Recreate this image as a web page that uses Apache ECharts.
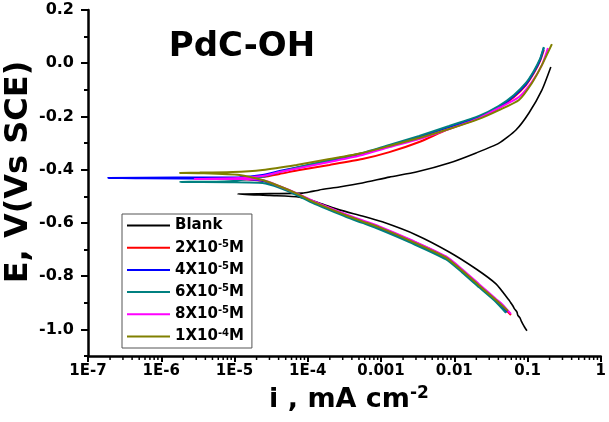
<!DOCTYPE html>
<html><head><meta charset="utf-8">
<script src="https://cdn.jsdelivr.net/npm/echarts@6/dist/echarts.min.js"></script>
<style>html,body{margin:0;padding:0;background:#fff}#c{width:609px;height:422px}</style>
</head><body><div id="c"></div>
<script>
// ---- axes / ticks ----
const xTickLabels = ['1E-7','1E-6','1E-5','1E-4','0.001','0.01','0.1','1'];
const yTickValues = [-1.0,-0.8,-0.6,-0.4,-0.2,0.0,0.2];
const yTickLabels = ['-1.0','-0.8','-0.6','-0.4','-0.2','0.0','0.2'];
const yMinorValues = [-1.1,-0.9,-0.7,-0.5,-0.3,-0.1,0.1];
const xMinorMultipliers = [2,3,4,5,6,7,8,9];
const xDecades = [-7,-6,-5,-4,-3,-2,-1];

// ---- legend ----
const legendBase = ['Blank','2X10','4X10','6X10','8X10','1X10'];
const legendExp  = ['', '-5','-5','-5','-5','-4'];
const seriesColors = ['#000000','#ff0000','#0000ff','#008080','#ff00ff','#808000'];

// ---- data: [i (mA cm-2), E (V vs SCE)] ----
const blankData = [[0.0982,-1.005],[0.0905,-0.990],[0.0867,-0.981],[0.0820,-0.968],[0.0789,-0.957],[0.0735,-0.946],[0.0718,-0.935],[0.0660,-0.922],[0.0633,-0.912],[0.0590,-0.900],[0.0558,-0.890],[0.0371,-0.829],[0.0199,-0.773],[8.51e-3,-0.709],[3.02e-3,-0.645],[1.04e-3,-0.596],[5.56e-4,-0.574],[2.70e-4,-0.551],[1.44e-4,-0.525],[7.71e-5,-0.503],[3.01e-5,-0.497],[1.10e-5,-0.491],[3.01e-5,-0.490],[8.47e-5,-0.488],[1.05e-4,-0.484],[1.44e-4,-0.476],[2.70e-4,-0.465],[5.56e-4,-0.450],[1.30e-3,-0.428],[3.02e-3,-0.409],[8.51e-3,-0.375],[0.0199,-0.337],[0.0408,-0.300],[0.0695,-0.251],[0.1045,-0.187],[0.157,-0.101],[0.208,-0.014]];
const c2e5Data = [[0.0594,-0.946],[0.0450,-0.912],[0.0371,-0.890],[0.0218,-0.834],[0.0128,-0.778],[7.74e-3,-0.729],[2.67e-3,-0.668],[9.48e-4,-0.616],[5.56e-4,-0.593],[3.37e-4,-0.571],[1.98e-4,-0.545],[1.16e-4,-0.518],[7.02e-5,-0.490],[4.12e-5,-0.463],[2.41e-5,-0.442],[1.17e-5,-0.436],[3.35e-6,-0.433],[1.17e-5,-0.431],[2.41e-5,-0.427],[4.12e-5,-0.416],[7.71e-5,-0.401],[1.98e-4,-0.382],[5.56e-4,-0.360],[1.30e-3,-0.334],[3.32e-3,-0.296],[7.74e-3,-0.251],[0.0218,-0.206],[0.0408,-0.168],[0.0653,-0.127],[0.0952,-0.082],[0.122,-0.037],[0.148,0.008],[0.167,0.050]];
const c4e5Data = [[0.0525,-0.935],[0.0371,-0.893],[0.0218,-0.837],[0.0128,-0.781],[7.74e-3,-0.732],[2.67e-3,-0.672],[9.48e-4,-0.619],[5.56e-4,-0.596],[3.37e-4,-0.574],[1.98e-4,-0.548],[1.16e-4,-0.521],[7.02e-5,-0.491],[4.12e-5,-0.465],[2.41e-5,-0.442],[1.17e-5,-0.434],[1.87e-7,-0.431],[1.17e-5,-0.428],[2.41e-5,-0.420],[4.12e-5,-0.405],[7.71e-5,-0.390],[1.98e-4,-0.367],[5.56e-4,-0.341],[1.30e-3,-0.311],[3.32e-3,-0.277],[8.51e-3,-0.240],[0.0218,-0.202],[0.0408,-0.164],[0.0653,-0.123],[0.0952,-0.078],[0.122,-0.033],[0.148,0.012],[0.167,0.057]];
const c6e5Data = [[0.0508,-0.938],[0.0371,-0.897],[0.0218,-0.842],[0.0128,-0.786],[7.74e-3,-0.737],[2.67e-3,-0.677],[9.48e-4,-0.624],[5.56e-4,-0.600],[3.37e-4,-0.578],[1.98e-4,-0.552],[1.16e-4,-0.525],[7.02e-5,-0.495],[4.12e-5,-0.468],[2.41e-5,-0.450],[8.59e-6,-0.447],[1.79e-6,-0.446],[8.59e-6,-0.443],[2.41e-5,-0.427],[4.12e-5,-0.409],[7.71e-5,-0.390],[1.98e-4,-0.364],[5.56e-4,-0.337],[1.30e-3,-0.307],[3.32e-3,-0.273],[8.51e-3,-0.236],[0.0218,-0.198],[0.0408,-0.160],[0.0653,-0.119],[0.0952,-0.074],[0.122,-0.029],[0.148,0.016],[0.167,0.061]];
const c8e5Data = [[0.0594,-0.942],[0.0450,-0.905],[0.0371,-0.886],[0.0218,-0.830],[0.0128,-0.774],[7.74e-3,-0.726],[2.67e-3,-0.666],[9.48e-4,-0.613],[5.56e-4,-0.590],[3.37e-4,-0.568],[1.98e-4,-0.543],[1.16e-4,-0.516],[7.02e-5,-0.488],[4.12e-5,-0.462],[2.41e-5,-0.439],[1.17e-5,-0.435],[2.86e-6,-0.435],[1.17e-5,-0.431],[2.41e-5,-0.424],[4.12e-5,-0.409],[7.71e-5,-0.394],[1.98e-4,-0.371],[5.56e-4,-0.345],[1.30e-3,-0.315],[3.32e-3,-0.285],[8.51e-3,-0.247],[0.0218,-0.206],[0.0408,-0.168],[0.0764,-0.127],[0.115,-0.070],[0.157,-0.007],[0.190,0.057]];
const c1e4Data = [[0.054,-0.931],[0.0371,-0.890],[0.0218,-0.835],[0.0128,-0.779],[7.74e-3,-0.730],[2.67e-3,-0.670],[9.48e-4,-0.617],[5.56e-4,-0.594],[3.37e-4,-0.572],[1.98e-4,-0.546],[1.16e-4,-0.519],[7.02e-5,-0.489],[4.12e-5,-0.462],[2.41e-5,-0.439],[1.17e-5,-0.420],[3.35e-6,-0.413],[1.79e-6,-0.412],[3.35e-6,-0.411],[9.44e-6,-0.409],[2.41e-5,-0.401],[7.02e-5,-0.382],[1.98e-4,-0.360],[5.56e-4,-0.337],[1.30e-3,-0.311],[3.32e-3,-0.281],[8.51e-3,-0.247],[0.0218,-0.209],[0.0408,-0.176],[0.0764,-0.138],[0.115,-0.074],[0.157,-0.007],[0.215,0.072]];
const allData = [blankData,c2e5Data,c4e5Data,c6e5Data,c8e5Data,c1e4Data];

const FONT = 'DejaVu Sans';
const seriesNames = legendBase.map((b,i)=> b + legendExp[i] + (legendExp[i] ? 'M' : ''));
const xMinorValues = [];
xDecades.forEach(d => xMinorMultipliers.forEach(m => xMinorValues.push([m*Math.pow(10,d), -1.1])));

const chart = echarts.init(document.getElementById('c'), null, {renderer:'canvas'});
const lineSeries = allData.map((d,i)=>({
  name: seriesNames[i], type:'line', data:d, symbol:'none', showSymbol:false, smooth:0.2,
  xAxisIndex:0, yAxisIndex:0,
  lineStyle:{color:seriesColors[i], width: i===0?1.6:2},
  itemStyle:{color:seriesColors[i]}, z: 2+i, animation:false
}));

chart.setOption({
  animation:false,
  backgroundColor:'#fff',
  grid:{left:88,right:7,top:10,bottom:66,containLabel:false},
  xAxis:[{
    type:'log', logBase:10, min:1e-7, max:1, splitNumber:7,
    axisLine:{show:true,onZero:false,lineStyle:{color:'#000',width:2.5}},
    axisTick:{show:true,inside:false,length:6,lineStyle:{color:'#000',width:2}},
    splitLine:{show:false},
    axisLabel:{margin:8,color:'#000',fontFamily:FONT,fontWeight:'bold',fontSize:15,
      formatter:v=>xTickLabels[Math.round(Math.log10(v))+7]}
  }],
  yAxis:[{
    type:'value', min:-1.1, max:0.2,
    axisLine:{show:true,onZero:false,lineStyle:{color:'#000',width:2.5}},
    axisTick:{show:true,length:7,customValues:yTickValues,lineStyle:{color:'#000',width:2}},
    splitLine:{show:false},
    axisLabel:{margin:14,color:'#000',fontFamily:FONT,fontWeight:'bold',fontSize:16,customValues:yTickValues,
      formatter:v=>{const k=yTickValues.findIndex(t=>Math.abs(t-v)<1e-6);return k>=0?yTickLabels[k]:'';}}
  },{
    type:'value', min:-1.1, max:0.2, position:'left',
    axisLine:{show:false}, splitLine:{show:false}, axisLabel:{show:false},
    axisTick:{show:true,length:4,customValues:yMinorValues,lineStyle:{color:'#000',width:2}}
  }],
  legend:{
    show:true, data:seriesNames, orient:'vertical', left:122, top:214,
    icon:'rect', itemWidth:43, itemHeight:2, itemGap:6.2, padding:[4,8,4,5],
    borderColor:'#555', borderWidth:1, backgroundColor:'#fff',
    textStyle:{color:'#000',fontFamily:FONT,fontWeight:'bold',fontSize:15,
      rich:{b:{fontFamily:FONT,fontWeight:'bold',fontSize:15,lineHeight:17,color:'#000'},
            s:{fontFamily:FONT,fontWeight:'bold',fontSize:10,lineHeight:11,verticalAlign:'top',color:'#000'}}},
    formatter:name=>{const k=seriesNames.indexOf(name);
      return legendExp[k] ? '{b|'+legendBase[k]+'}{s|'+legendExp[k]+'}{b|M}' : '{b|'+legendBase[k]+'}';}
  },
  graphic:[
    {type:'text',x:242,y:47,style:{text:'PdC-OH',fill:'#000',font:'bold 34px "DejaVu Sans"',textAlign:'center',textVerticalAlign:'middle'}},
    {type:'text',x:19,y:172,rotation:Math.PI/2,style:{text:'E, V(Vs SCE)',fill:'#000',font:'bold 32px "DejaVu Sans"',textAlign:'center',textVerticalAlign:'middle'}},
    {type:'text',x:349,y:400,style:{text:'{a|i , mA cm}{s|-2}',textAlign:'center',textVerticalAlign:'middle',
      rich:{a:{fontFamily:FONT,fontWeight:'bold',fontSize:27,lineHeight:30,fill:'#000'},
            s:{fontFamily:FONT,fontWeight:'bold',fontSize:17,lineHeight:17,verticalAlign:'top',fill:'#000'}}}}
  ],
  series: lineSeries.concat([{
    type:'custom', silent:true, clip:false, z:1, data:xMinorValues,
    xAxisIndex:0, yAxisIndex:0,
    renderItem:(params, api)=>{const p=api.coord([api.value(0), api.value(1)]);
      return {type:'line',shape:{x1:p[0],y1:p[1],x2:p[0],y2:p[1]+4},style:{stroke:'#000',lineWidth:1.5}};}
  }])
});
</script></body></html>
